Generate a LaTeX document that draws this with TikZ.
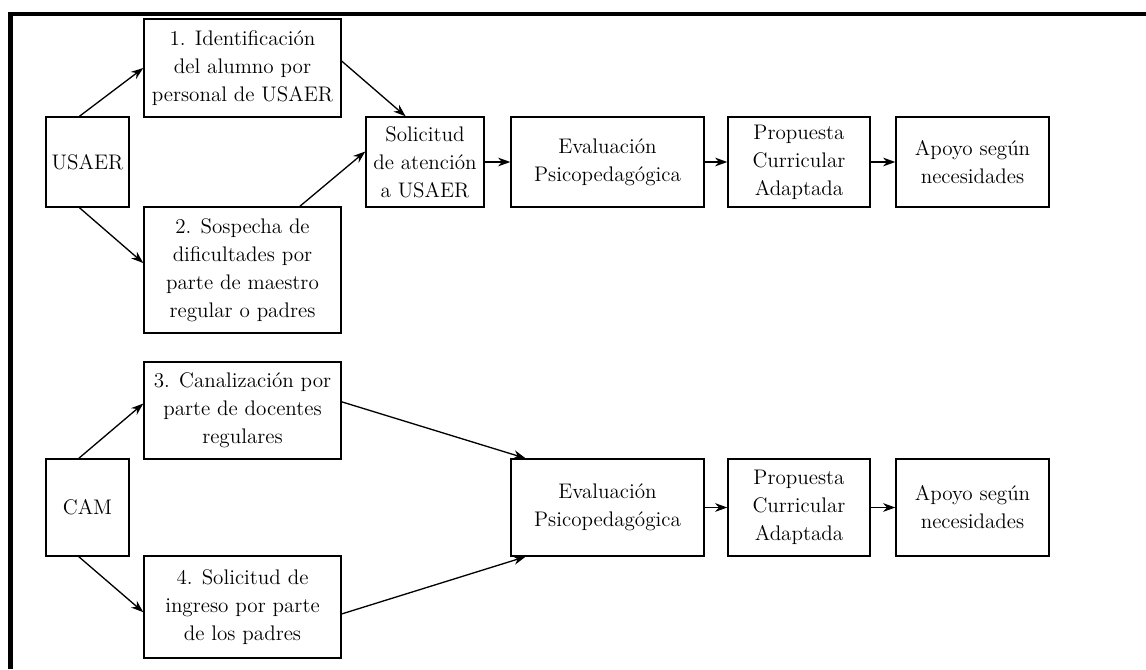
\documentclass[tikz,border=0pt]{standalone}
\usetikzlibrary{arrows.meta}

\begin{document}
\begin{tikzpicture}[x=0.2mm,y=-0.2mm,
	caja/.style={draw, line width=0.8pt, align=center, inner sep=0pt, font=\fontsize{12}{16}\selectfont},
	flecha/.style={-{Stealth[length=7pt,width=5pt]}, line width=0.75pt}]
	\useasboundingbox (0,0) rectangle (1146,669);
	\draw[line width=2.3pt] (10.5,669) -- (10.5,14) -- (1146,14);
	% USAER
	\node[caja, minimum width=16.6mm, minimum height=18mm] (usaer) at (87.5,162) {USAER};
	\node[caja, minimum width=39.4mm, minimum height=19.6mm] (ident) at (242.5,68) {1. Identificación\\del alumno por\\personal de USAER};
	\node[caja, minimum width=39.4mm, minimum height=25.2mm] (sosp) at (242.5,270) {2. Sospecha de\\dificultades por\\parte de maestro\\regular o padres};
	\node[caja, minimum width=23.6mm, minimum height=18mm] (solic) at (425,162) {Solicitud\\de atención\\a USAER};
	\node[caja, minimum width=38.6mm, minimum height=18mm] (evalA) at (607.5,162) {Evaluación\\Psicopedagógica};
	\node[caja, minimum width=28.4mm, minimum height=18mm] (propA) at (799,162) {Propuesta\\Curricular\\Adaptada};
	\node[caja, minimum width=30.6mm, minimum height=18mm] (apoyoA) at (972.5,162) {Apoyo según\\necesidades};
	\draw[flecha] (usaer.100) -- (ident.west);
	\draw[flecha] (usaer.-100) -- (sosp.176);
	\draw[flecha] (ident.4) -- (solic.113);
	\draw[flecha] (sosp.48) -- (solic.170);
	\draw[flecha] (solic) -- (evalA);
	\draw[flecha] (evalA) -- (propA);
	\draw[flecha] (propA) -- (apoyoA);
	% CAM
	\node[caja, minimum width=16.6mm, minimum height=19.4mm] (cam) at (87.5,507.5) {CAM};
	\node[caja, minimum width=39.4mm, minimum height=19.4mm] (canal) at (242.5,410.5) {3. Canalización por\\parte de docentes\\regulares};
	\node[caja, minimum width=39.4mm, minimum height=20.4mm] (ingreso) at (242.5,607) {4. Solicitud de\\ingreso por parte\\de los padres};
	\node[caja, minimum width=38.6mm, minimum height=19.4mm] (evalB) at (607.5,507.5) {Evaluación\\Psicopedagógica};
	\node[caja, minimum width=28.4mm, minimum height=19.4mm] (propB) at (799,507.5) {Propuesta\\Curricular\\Adaptada};
	\node[caja, minimum width=30.6mm, minimum height=19.4mm] (apoyoB) at (972.5,507.5) {Apoyo según\\necesidades};
	\draw[flecha] (cam.100) -- (canal.176);
	\draw[flecha] (cam.-100) -- (ingreso.183);
	\draw[flecha] (canal.5) -- (evalB.149);
	\draw[flecha] (ingreso.-4) -- (evalB.-149);
	\draw[flecha] (evalB) -- (propB);
	\draw[flecha] (propB) -- (apoyoB);
\end{tikzpicture}
\end{document}
